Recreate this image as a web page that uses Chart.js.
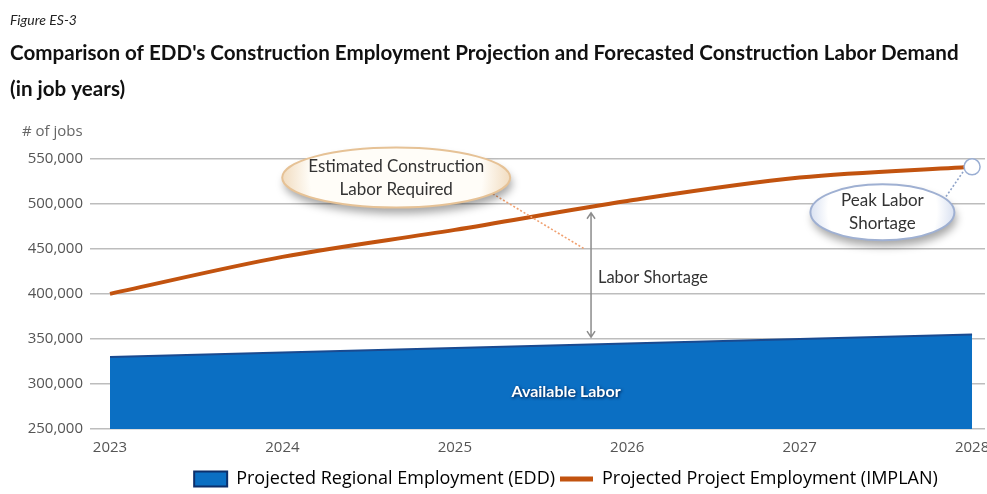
<!DOCTYPE html>
<html><head><meta charset="utf-8">
<script src="https://cdn.jsdelivr.net/npm/chart.js@4.4.1/dist/chart.umd.min.js"></script>
<style>html,body{margin:0;padding:0;background:#fff;}#wrap{width:987px;height:494px;}</style>
</head><body><div id="wrap"><canvas id="c" width="987" height="494"></canvas></div>
<script>
// ---- data ----
const years = [2023, 2024, 2025, 2026, 2027, 2028];
const regionalEmployment = [330000, 335000, 340000, 345000, 350000, 355000];
const projectEmployment = [400000, 441000, 471000, 503000, 529000, 541000];
const yTickValues = [250000, 300000, 350000, 400000, 450000, 500000, 550000];
const seriesNames = ['Projected Regional Employment (EDD)', 'Projected Project Employment (IMPLAN)'];
const figureLabel = 'Figure ES-3';
const titleLines = ["Comparison of EDD's Construction Employment Projection and Forecasted Construction Labor Demand", '(in job years)'];
const yAxisLabel = '# of jobs';
const calloutRequired = ['Estimated Construction', 'Labor Required'];
const calloutPeak = ['Peak Labor', 'Shortage'];
const shortageLabel = 'Labor Shortage';
const areaLabel = 'Available Labor';

const BLUE = '#0b6fc3', BLUE_EDGE = '#1a4a90', ORANGE = '#c2530f';

function ellipseCallout(ctx, cx, cy, rx, ry, inner, outer, border, lines, font) {
  ctx.save();
  ctx.beginPath();
  ctx.ellipse(cx, cy, rx, ry, 0, 0, Math.PI * 2);
  const g = ctx.createRadialGradient(cx, cy - ry * 0.3, 2, cx, cy, rx);
  g.addColorStop(0, inner); g.addColorStop(0.75, inner); g.addColorStop(1, outer);
  ctx.shadowColor = 'rgba(0,0,0,0.35)'; ctx.shadowBlur = 9; ctx.shadowOffsetX = 2; ctx.shadowOffsetY = 6;
  ctx.fillStyle = g; ctx.fill();
  ctx.shadowColor = 'transparent';
  ctx.lineWidth = 2; ctx.strokeStyle = border; ctx.stroke();
  ctx.fillStyle = '#333'; ctx.font = font; ctx.textAlign = 'center'; ctx.textBaseline = 'middle';
  const lh = 23;
  lines.forEach((t, i) => ctx.fillText(t, cx, cy + (i - (lines.length - 1) / 2) * lh));
  ctx.restore();
}
function dotted(ctx, x1, y1, x2, y2, color) {
  ctx.save(); ctx.setLineDash([2, 2]); ctx.lineWidth = 1.6; ctx.strokeStyle = color;
  ctx.beginPath(); ctx.moveTo(x1, y1); ctx.lineTo(x2, y2); ctx.stroke(); ctx.restore();
}

const annotationPlugin = {
  id: 'annot',
  afterLayout(chart) {
    // let the plot run to the right edge like the original (last year label may overhang)
    const ca = chart.chartArea, xs = chart.scales.x, ys = chart.scales.y;
    const newRight = chart.width - 2;
    ca.right = newRight; ca.width = ca.right - ca.left;
    xs.right = newRight; xs.width = xs.right - xs.left; xs.configure();
    const lg = chart.legend; if (!lg) return;
    const want = ca.left + 456;
    const cur = lg.left + lg.width / 2;
    const d = want - cur;
    lg.left += d; lg.right += d;
    lg.top += 4; lg.bottom += 4;
  },
  afterDraw(chart) {
    const ctx = chart.ctx, xs = chart.scales.x, ys = chart.scales.y, ca = chart.chartArea;
    const X = v => xs.getPixelForValue(v), Y = v => ys.getPixelForValue(v);
    // y axis label
    ctx.save();
    ctx.font = '15px "Open Sans"'; ctx.fillStyle = '#666'; ctx.textAlign = 'left'; ctx.textBaseline = 'middle';
    ctx.fillText(yAxisLabel, ca.left - 88, ca.top - 27);
    ctx.restore();
    // available labor
    ctx.save();
    ctx.font = 'bold 16px Lato'; ctx.fillStyle = '#fff'; ctx.textAlign = 'center'; ctx.textBaseline = 'middle';
    ctx.shadowColor = 'rgba(0,20,60,0.9)'; ctx.shadowBlur = 3; ctx.shadowOffsetX = 1; ctx.shadowOffsetY = 1;
    ctx.fillText(areaLabel, X(2025.645), Y(291000));
    ctx.restore();
    // shortage arrow
    const ax = X(2025.79), at = Y(490000), ab = Y(352000);
    ctx.save(); ctx.strokeStyle = '#8c8c8c'; ctx.lineWidth = 1.5;
    ctx.beginPath(); ctx.moveTo(ax, at); ctx.lineTo(ax, ab);
    ctx.moveTo(ax - 4, at + 6); ctx.lineTo(ax, at); ctx.lineTo(ax + 4, at + 6);
    ctx.moveTo(ax - 4, ab - 6); ctx.lineTo(ax, ab); ctx.lineTo(ax + 4, ab - 6);
    ctx.stroke(); ctx.restore();
    ctx.save(); ctx.font = '16.5px Lato'; ctx.fillStyle = '#333'; ctx.textAlign = 'left'; ctx.textBaseline = 'middle';
    ctx.fillText(shortageLabel, X(2025.83), Y(417600)); ctx.restore();
    // pointers
    dotted(ctx, X(2025.22), Y(511000), X(2025.755), Y(449500), '#f0a070');
    dotted(ctx, X(2027.77), Y(486000), X(2027.95), Y(536000), '#8fa3c8');
    // callouts
    ellipseCallout(ctx, X(2024.66), Y(529000), 114, 30, '#fffdf8', '#f1dcc0', '#e6c296', calloutRequired, '17px Lato');
    ellipseCallout(ctx, X(2027.48), Y(490400), 72, 28, '#ffffff', '#d9e1f1', '#9fb0d2', calloutPeak, '17px Lato');
  }
};

new Chart(document.getElementById('c'), {
  type: 'line',
  data: {
    datasets: [
      {
        label: seriesNames[0],
        data: years.map((y, i) => ({ x: y, y: regionalEmployment[i] })),
        fill: 'start', backgroundColor: BLUE, borderColor: BLUE_EDGE, borderWidth: 2,
        pointRadius: 0, tension: 0, order: 2
      },
      {
        label: seriesNames[1],
        data: years.map((y, i) => ({ x: y, y: projectEmployment[i] })),
        fill: false, borderColor: ORANGE, borderWidth: 4, cubicInterpolationMode: 'monotone',
        pointRadius: c => (c.dataIndex === years.length - 1 ? 8 : 0),
        pointBackgroundColor: '#ffffff', pointBorderColor: '#9aaed3', pointBorderWidth: 1.5,
        clip: false, order: 1
      }
    ]
  },
  options: {
    responsive: false, animation: false, devicePixelRatio: 1,
    layout: { padding: { left: 10, right: 2, top: 0, bottom: 0 } },
    scales: {
      x: {
        type: 'linear', min: 2023, max: 2028.075,
        afterBuildTicks: s => { s.ticks = years.map(v => ({ value: v })); },
        afterFit: s => { s.height = 32; },
        grid: { display: false }, border: { display: false },
        ticks: { callback: v => String(v), color: '#555', font: { family: 'Open Sans', size: 15 }, padding: 2, maxRotation: 0, autoSkip: false }
      },
      y: {
        min: 250000, max: 550000,
        afterBuildTicks: s => { s.ticks = yTickValues.map(v => ({ value: v })); },
        afterFit: s => { s.width = 100; },
        grid: { color: '#bdbdbd', lineWidth: 1.5, tickLength: 20, drawTicks: true },
        border: { display: false },
        ticks: { callback: v => v.toLocaleString('en-US'), color: '#555', font: { family: 'Open Sans', size: 15 }, padding: 7 }
      }
    },
    plugins: {
      subtitle: {
        display: true, text: figureLabel, align: 'start', weight: 3000, color: '#222',
        font: { family: 'Lato', size: 14, style: 'italic' }, padding: { top: 12, bottom: 4 }
      },
      title: {
        display: true, text: titleLines, align: 'start', color: '#111',
        font: { family: 'Lato', size: 20.6, weight: 'bold', lineHeight: 1.72 }, padding: { top: 3, bottom: 52 }
      },
      legend: {
        position: 'bottom',
        labels: {
          usePointStyle: true, pointStyleWidth: 33, boxHeight: 15, padding: 5,
          color: '#666', font: { family: 'Open Sans', size: 18 },
          generateLabels: () => [
            { text: seriesNames[0], fillStyle: BLUE, strokeStyle: '#0d2f6b', lineWidth: 2, pointStyle: 'rect', datasetIndex: 0, hidden: false },
            { text: seriesNames[1], fillStyle: ORANGE, strokeStyle: ORANGE, lineWidth: 5, pointStyle: 'line', datasetIndex: 1, hidden: false }
          ]
        }
      },
      tooltip: { enabled: false }
    }
  },
  plugins: [annotationPlugin]
});
</script>
</body></html>
